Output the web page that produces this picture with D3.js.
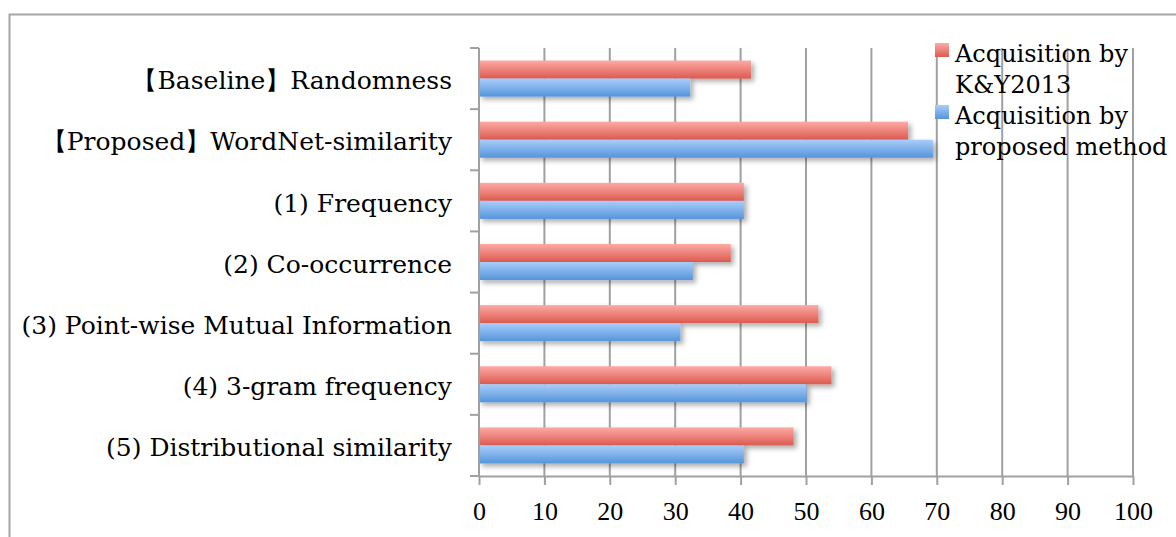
<!DOCTYPE html>
<html><head><meta charset="utf-8">
<script src="https://cdn.jsdelivr.net/npm/d3@7"></script>
<style>body{margin:0;background:#fff}svg{display:block}</style>
</head><body>
<svg id="c" width="1176" height="537"></svg>
<script>
const categories = ["【Baseline】Randomness","【Proposed】WordNet-similarity","(1) Frequency","(2) Co-occurrence","(3) Point-wise Mutual Information","(4) 3-gram frequency","(5) Distributional similarity"];
const seriesNames = ["Acquisition by K&Y2013","Acquisition by proposed method"];
const kyValues = [41.6, 65.6, 40.5, 38.5, 51.9, 53.9, 48.1];
const proposedValues = [32.3, 69.4, 40.5, 32.7, 30.8, 50.1, 40.5];
const xTicks = [0,10,20,30,40,50,60,70,80,90,100];

const svg = d3.select("#c");
const font = "'DejaVu Serif', serif";
const numFont = "'Liberation Serif', serif";
const L = 479, R = 1133, T = 48, B = 476;
const x = d3.scaleLinear().domain([0,100]).range([L,R]);
const y = d3.scaleBand().domain(categories).range([T,B]).paddingInner(0.41).paddingOuter(0.205);
const sub = d3.scaleBand().domain([0,1]).range([0,y.bandwidth()]);

const defs = svg.append("defs");
function grad(id, c1, c2){
  const g = defs.append("linearGradient").attr("id",id).attr("x1",0).attr("y1",0).attr("x2",0).attr("y2",1);
  g.append("stop").attr("offset","0%").attr("stop-color",c1);
  g.append("stop").attr("offset","100%").attr("stop-color",c2);
}
grad("gr","#fdaaa6","#dc5a4f");
grad("gb","#a9cdfb","#5595da");
const f = defs.append("filter").attr("id","sh").attr("x","-5%").attr("y","-30%").attr("width","115%").attr("height","190%");
f.append("feDropShadow").attr("dx",3).attr("dy",3).attr("stdDeviation",2.5).attr("flood-color","#000").attr("flood-opacity",0.32);

// border
svg.append("rect").attr("x",9.5).attr("y",14.5).attr("width",1200).attr("height",600)
  .attr("fill","none").attr("stroke","#a6a6a6").attr("stroke-width",2);

// gridlines
svg.append("g").selectAll("line").data(xTicks.slice(1)).join("line")
  .attr("x1",d=>x(d)).attr("x2",d=>x(d)).attr("y1",T).attr("y2",B)
  .attr("stroke","#a0a0a0").attr("stroke-width",2);

// bars
const data = categories.map((c,i)=>({c, v:[kyValues[i], proposedValues[i]]}));
const gg = svg.append("g").selectAll("g").data(data).join("g");
gg.selectAll("rect").data(d=>d.v.map((v,k)=>({c:d.c,v,k}))).join("rect")
  .attr("x",x(0)).attr("y",d=>y(d.c)+sub(d.k))
  .attr("width",d=>x(d.v)-x(0)).attr("height",sub.bandwidth())
  .attr("fill",d=>d.k===0?"url(#gr)":"url(#gb)")
  .attr("filter","url(#sh)");

// x axis
const xa = svg.append("g").attr("transform",`translate(0,${B})`)
  .call(d3.axisBottom(x).tickValues(xTicks).tickSize(9).tickPadding(17).tickSizeOuter(0));
xa.select(".domain").attr("stroke","#a0a0a0").attr("stroke-width",2);
xa.selectAll(".tick line").attr("stroke","#a0a0a0").attr("stroke-width",2);
xa.selectAll("text").attr("font-family",numFont).attr("font-size",26).attr("fill","#000");

// y axis
svg.append("line").attr("x1",L).attr("x2",L).attr("y1",T).attr("y2",B).attr("stroke","#a0a0a0").attr("stroke-width",2);
const ybounds = categories.map(c=>y(c)-y.step()*y.paddingInner()/2).concat([B]);
svg.append("g").selectAll("line").data(ybounds).join("line")
  .attr("x1",L-9).attr("x2",L).attr("y1",d=>d).attr("y2",d=>d)
  .attr("stroke","#a0a0a0").attr("stroke-width",2);
svg.append("g").selectAll("text").data(categories).join("text")
  .attr("x",452).attr("y",d=>y(d)+y.bandwidth()/2+2).attr("dy","0.35em")
  .attr("text-anchor","end").attr("font-family",font).attr("font-size",25).text(d=>d);

// legend
const leg = svg.append("g");
const legLines = [["Acquisition by","K&Y2013"],["Acquisition by","proposed method"]];
legLines.forEach((ls,k)=>{
  const y0 = 62 + k*62;
  leg.append("rect").attr("x",935).attr("y",y0-19).attr("width",14).attr("height",14)
    .attr("fill",k===0?"url(#gr)":"url(#gb)");
  ls.forEach((t,j)=>{
    leg.append("text").attr("x",955).attr("y",y0+j*31).attr("font-family",font).attr("font-size",24).text(t);
  });
});
</script>
</body></html>
